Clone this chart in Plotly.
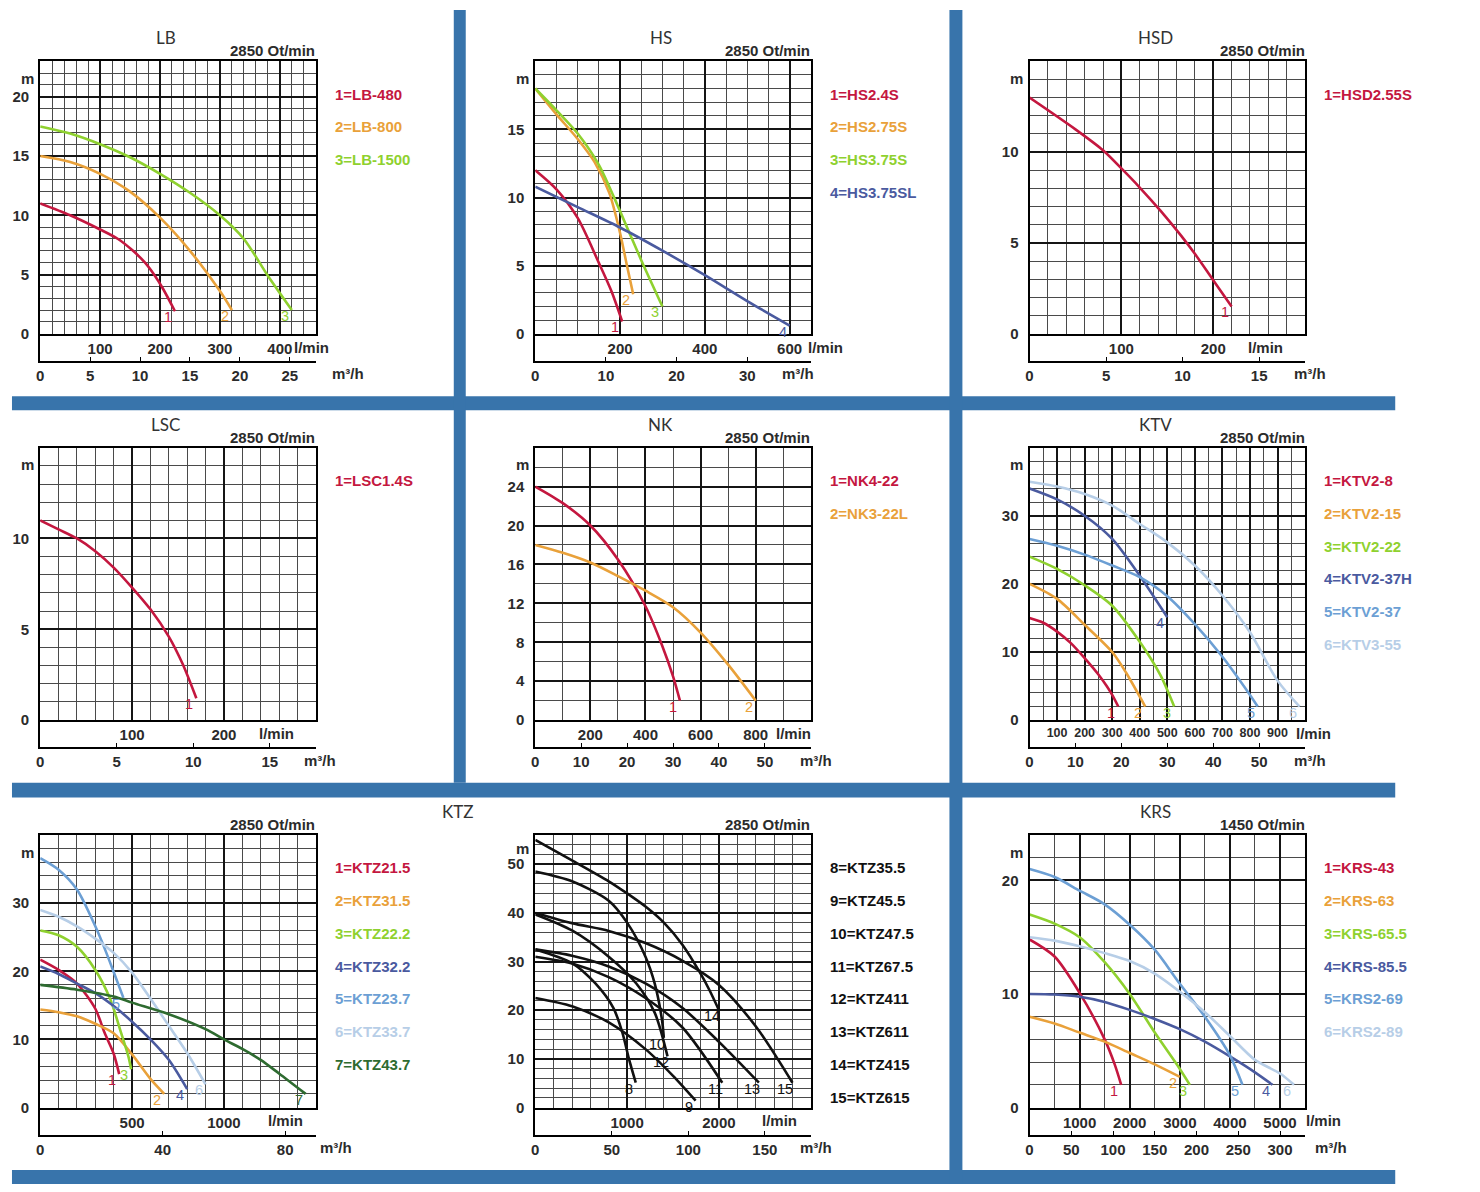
import plotly.graph_objects as go

W, H = 1480, 1192
FONT = "Liberation Sans"
TXT = "#2b2b2b"
RED, ORANGE, GREEN = "#c4173f", "#e9a13a", "#8fd12f"
DBLUE, MBLUE, LBLUE, DGREEN, BLACK = "#4a5a9f", "#6c9fd4", "#b7cee7", "#2e6b30", "#111111"
BAR = "#3874ab"

# ---------------- data (flow l/min, head m) ----------------
# LB
lb480_q = [0, 50, 100, 130, 155, 175, 190, 205, 225]
lb480_h = [11.0, 10.0, 8.8, 8.0, 7.0, 6.0, 5.0, 3.8, 1.9]
lb800_q = [0, 50, 100, 150, 200, 250, 300, 320]
lb800_h = [15.0, 14.5, 13.5, 12.0, 9.8, 7.0, 3.6, 2.0]
lb1500_q = [0, 50, 100, 150, 200, 250, 300, 340, 380, 420]
lb1500_h = [17.5, 16.9, 16.0, 14.9, 13.5, 11.9, 10.0, 8.0, 4.9, 2.0]
# HS
hs24_q = [0, 50, 100, 150, 180, 205]
hs24_h = [12.0, 10.6, 8.5, 5.2, 3.1, 0.9]
hs275_q = [0, 50, 100, 140, 175, 200, 215, 231]
hs275_h = [18.0, 16.1, 14.3, 12.6, 10.3, 7.4, 5.2, 2.9]
hs375_q = [0, 50, 100, 150, 200, 250, 300]
hs375_h = [18.0, 16.4, 14.7, 12.4, 9.0, 5.4, 2.0]
hs375l_q = [0, 100, 200, 300, 400, 500, 600]
hs375l_h = [10.8, 9.3, 7.8, 6.1, 4.3, 2.4, 0.6]
# HSD
hsd_q = [0, 50, 80, 100, 120, 143, 165, 180, 200, 220]
hsd_h = [13.0, 11.25, 10.1, 9.1, 8.05, 6.75, 5.4, 4.4, 2.95, 1.5]
# LSC
lsc_q = [0, 20, 40, 60, 80, 100, 120, 140, 155, 170]
lsc_h = [11.0, 10.5, 10.0, 9.3, 8.4, 7.3, 6.1, 4.6, 3.1, 1.2]
# NK
nk422_q = [0, 100, 200, 300, 400, 460, 500, 525]
nk422_h = [24.0, 22.3, 20.0, 16.5, 11.7, 7.7, 4.5, 2.0]
nk322l_q = [0, 100, 200, 300, 400, 500, 600, 700, 800]
nk322l_h = [18.0, 17.2, 16.2, 14.8, 13.3, 11.6, 9.0, 5.7, 2.0]
# KTV
ktv28_q = [0, 50, 100, 150, 200, 250, 280, 300, 322]
ktv28_h = [15.0, 14.3, 13.0, 11.3, 9.1, 6.7, 5.0, 3.7, 2.0]
ktv215_q = [0, 100, 200, 300, 350, 420]
ktv215_h = [20.0, 17.8, 14.0, 10.0, 7.0, 2.0]
ktv222_q = [0, 100, 200, 300, 400, 475, 525]
ktv222_h = [24.0, 22.2, 19.8, 16.8, 11.5, 6.6, 2.0]
ktv237h_q = [0, 100, 200, 300, 400, 500]
ktv237h_h = [34.0, 32.4, 30.0, 26.6, 21.2, 15.1]
ktv237_q = [0, 100, 200, 300, 400, 500, 600, 700, 800, 828]
ktv237_h = [26.6, 25.6, 24.3, 22.7, 21.0, 18.2, 14.1, 9.3, 3.7, 2.0]
ktv355_q = [0, 100, 200, 300, 400, 500, 600, 700, 800, 900, 980]
ktv355_h = [35.0, 34.3, 33.2, 31.5, 28.8, 26.1, 22.7, 18.3, 12.9, 5.8, 2.0]
# KTZ (left)
ktz215_q = [0, 100, 200, 300, 350, 400, 430]
ktz215_h = [21.7, 20.2, 18.2, 14.5, 11.0, 7.9, 4.9]
ktz315_q = [0, 100, 200, 300, 400, 500, 600, 675]
ktz315_h = [14.4, 14.0, 13.4, 12.3, 10.9, 7.8, 4.2, 2.0]
ktz222_q = [0, 100, 200, 300, 380, 440, 480, 495]
ktz222_h = [26.0, 25.3, 23.6, 20.2, 16.0, 11.0, 7.5, 5.6]
ktz322_q = [0, 100, 200, 300, 400, 500, 600, 700, 800]
ktz322_h = [20.7, 19.6, 18.2, 16.8, 14.9, 12.6, 10.0, 7.0, 2.7]
ktz237_q = [0, 100, 200, 300, 350, 400, 453]
ktz237_h = [36.6, 34.9, 32.0, 26.6, 23.4, 19.9, 16.1]
ktz337_q = [0, 100, 200, 300, 400, 500, 600, 700, 800, 900]
ktz337_h = [29.0, 28.0, 26.6, 24.8, 22.7, 19.8, 16.0, 12.0, 8.0, 3.4]
ktz437_q = [0, 200, 400, 500, 700, 900, 1000, 1100, 1200, 1300, 1445]
ktz437_h = [18.0, 17.3, 16.3, 15.4, 13.7, 11.5, 10.0, 8.6, 7.0, 5.0, 2.0]
# KTZ (right)
ktz355_q = [0, 400, 650, 850, 950, 1020, 1094]
ktz355_h = [32.5, 29.7, 25.6, 20.5, 15.3, 10.0, 5.1]
ktz455_q = [0, 400, 800, 1200, 1500, 1746]
ktz455_h = [22.5, 20.8, 17.5, 12.0, 6.5, 1.4]
ktz475_q = [0, 400, 800, 1000, 1200, 1300, 1380, 1400]
ktz475_h = [48.5, 46.5, 42.5, 38.0, 31.0, 25.5, 18.0, 14.3]
ktz675_q = [0, 400, 800, 1200, 1600, 2036]
ktz675_h = [31.0, 29.6, 26.8, 22.5, 16.5, 5.1]
ktz411_q = [0, 400, 800, 1100, 1300, 1440]
ktz411_h = [39.7, 36.4, 31.0, 25.5, 19.5, 10.5]
ktz611_q = [0, 400, 800, 1200, 1600, 2000, 2435]
ktz611_h = [32.5, 31.2, 29.0, 25.5, 20.5, 13.5, 5.1]
ktz415_q = [0, 400, 800, 1000, 1200, 1400, 1600, 1800, 1900, 2000]
ktz415_h = [55.0, 50.8, 46.5, 44.0, 41.3, 38.0, 33.5, 27.5, 24.0, 20.0]
ktz615_q = [0, 400, 800, 1200, 1600, 2000, 2400, 2800]
ktz615_h = [40.0, 37.9, 36.3, 33.8, 30.2, 25.2, 16.7, 5.1]
# KRS
krs43_q = [0, 500, 1000, 1500, 1700, 1830]
krs43_h = [14.8, 13.3, 10.1, 6.0, 3.8, 2.0]
krs63_q = [0, 500, 1000, 1500, 2000, 2500, 3000]
krs63_h = [8.0, 7.4, 6.6, 5.8, 4.8, 3.8, 2.7]
krs655_q = [0, 500, 1000, 1500, 2000, 2500, 3000, 3200]
krs655_h = [17.0, 16.2, 15.0, 12.8, 10.0, 6.6, 3.4, 2.0]
krs855_q = [0, 500, 1000, 1500, 2000, 2500, 3000, 3500, 4000, 4500, 4850]
krs855_h = [10.0, 9.95, 9.75, 9.3, 8.6, 7.8, 6.9, 5.8, 4.5, 3.1, 2.0]
krs269_q = [0, 500, 1000, 1500, 2000, 2500, 3000, 3500, 4000, 4250]
krs269_h = [21.0, 20.3, 19.1, 17.9, 16.1, 13.9, 10.9, 8.0, 4.6, 2.0]
krs289_q = [0, 500, 1000, 1500, 2000, 2500, 3000, 3500, 4000, 4500, 5000, 5280]
krs289_h = [15.0, 14.7, 14.2, 13.6, 12.9, 11.8, 10.2, 8.4, 6.3, 4.2, 3.0, 2.0]

# ---------------- panel layout ----------------
COL_L = [36.3, 532.7, 1028.3]
ROW_T = [61.7, 450.7, 840.7]
PW, PH, BH = 276.3, 274.3, 27.5

panels = [
    dict(title="LB", col=0, row=0, rpm="2850 Ot/min", xmax=460, ymax=23,
         xt=[100, 200, 300, 400], xminor=20, yt=[0, 5, 10, 15, 20], yminor=1,
         mt=[0, 5, 10, 15, 20, 25], lmin=252.5, m3=290.4, xfs=15, mdy=0,
         curves=[(lb480_q, lb480_h, RED, "1"), (lb800_q, lb800_h, ORANGE, "2"),
                 (lb1500_q, lb1500_h, GREEN, "3")],
         legend=[("1=LB-480", RED), ("2=LB-800", ORANGE), ("3=LB-1500", GREEN)]),
    dict(title="HS", col=1, row=0, rpm="2850 Ot/min", xmax=650, ymax=20,
         xt=[200, 400, 600], xminor=50, yt=[0, 5, 10, 15], yminor=1,
         mt=[0, 10, 20, 30], lmin=271.0, m3=245.6, xfs=15, mdy=0,
         curves=[(hs24_q, hs24_h, RED, "1"), (hs275_q, hs275_h, ORANGE, "2"),
                 (hs375_q, hs375_h, GREEN, "3"), (hs375l_q, hs375l_h, DBLUE, "4")],
         legend=[("1=HS2.4S", RED), ("2=HS2.75S", ORANGE), ("3=HS3.75S", GREEN),
                 ("4=HS3.75SL", DBLUE)]),
    dict(title="HSD", col=2, row=0, rpm="2850 Ot/min", xmax=300, ymax=15,
         xt=[100, 200], xminor=20, yt=[0, 5, 10], yminor=1,
         mt=[0, 5, 10, 15], lmin=216.7, m3=263.4, xfs=15, mdy=0,
         curves=[(hsd_q, hsd_h, RED, "1")],
         legend=[("1=HSD2.55S", RED)]),
    dict(title="LSC", col=0, row=1, rpm="2850 Ot/min", xmax=300, ymax=15,
         xt=[100, 200], xminor=20, yt=[0, 5, 10], yminor=1,
         mt=[0, 5, 10, 15], lmin=217.0, m3=263.0, xfs=15, mdy=0,
         curves=[(lsc_q, lsc_h, RED, "1")],
         legend=[("1=LSC1.4S", RED)]),
    dict(title="NK", col=1, row=1, rpm="2850 Ot/min", xmax=1000, ymax=28,
         xt=[200, 400, 600, 800], xminor=100, yt=[0, 4, 8, 12, 16, 20, 24], yminor=2,
         mt=[0, 10, 20, 30, 40, 50], lmin=239.0, m3=263.3, xfs=15, mdy=0,
         curves=[(nk422_q, nk422_h, RED, "1"), (nk322l_q, nk322l_h, ORANGE, "2")],
         legend=[("1=NK4-22", RED), ("2=NK3-22L", ORANGE)]),
    dict(title="KTV", col=2, row=1, rpm="2850 Ot/min", xmax=1000, ymax=40,
         xt=[100, 200, 300, 400, 500, 600, 700, 800, 900], xminor=50, yt=[0, 10, 20, 30], yminor=2,
         mt=[0, 10, 20, 30, 40, 50], lmin=265.0, m3=263.4, xfs=12.5, mdy=0,
         curves=[(ktv28_q, ktv28_h, RED, "1"), (ktv215_q, ktv215_h, ORANGE, "2"),
                 (ktv222_q, ktv222_h, GREEN, "3"), (ktv237h_q, ktv237h_h, DBLUE, "4"),
                 (ktv237_q, ktv237_h, MBLUE, "5"), (ktv355_q, ktv355_h, LBLUE, "6")],
         legend=[("1=KTV2-8", RED), ("2=KTV2-15", ORANGE), ("3=KTV2-22", GREEN),
                 ("4=KTV2-37H", DBLUE), ("5=KTV2-37", MBLUE), ("6=KTV3-55", LBLUE)]),
    dict(title=None, col=0, row=2, rpm="2850 Ot/min", xmax=1500, ymax=40,
         xt=[500, 1000], xminor=100, yt=[0, 10, 20, 30], yminor=2,
         mt=[0, 40, 80], lmin=226.0, m3=278.7, xfs=15, mdy=0,
         curves=[(ktz215_q, ktz215_h, RED, "1"), (ktz315_q, ktz315_h, ORANGE, "2"),
                 (ktz222_q, ktz222_h, GREEN, "3"), (ktz322_q, ktz322_h, DBLUE, "4"),
                 (ktz237_q, ktz237_h, MBLUE, "5"), (ktz337_q, ktz337_h, LBLUE, "6"),
                 (ktz437_q, ktz437_h, DGREEN, "7")],
         legend=[("1=KTZ21.5", RED), ("2=KTZ31.5", ORANGE), ("3=KTZ22.2", GREEN),
                 ("4=KTZ32.2", DBLUE), ("5=KTZ23.7", MBLUE), ("6=KTZ33.7", LBLUE),
                 ("7=KTZ43.7", DGREEN)]),
    dict(title=None, col=1, row=2, rpm="2850 Ot/min", xmax=3000, ymax=56,
         xt=[1000, 2000], xminor=200, yt=[0, 10, 20, 30, 40, 50], yminor=2,
         mt=[0, 50, 100, 150], lmin=225.0, m3=263.3, xfs=15, mdy=-4,
         curves=[(ktz355_q, ktz355_h, BLACK, "8"), (ktz455_q, ktz455_h, BLACK, "9"),
                 (ktz475_q, ktz475_h, BLACK, "10"), (ktz675_q, ktz675_h, BLACK, "11"),
                 (ktz411_q, ktz411_h, BLACK, "12"), (ktz611_q, ktz611_h, BLACK, "13"),
                 (ktz415_q, ktz415_h, BLACK, "14"), (ktz615_q, ktz615_h, BLACK, "15")],
         legend=[("8=KTZ35.5", BLACK), ("9=KTZ45.5", BLACK), ("10=KTZ47.5", BLACK),
                 ("11=KTZ67.5", BLACK), ("12=KTZ411", BLACK), ("13=KTZ611", BLACK),
                 ("14=KTZ415", BLACK), ("15=KTZ615", BLACK)]),
    dict(title="KRS", col=2, row=2, rpm="1450 Ot/min", xmax=5500, ymax=24,
         xt=[1000, 2000, 3000, 4000, 5000], xminor=500, yt=[0, 10, 20], yminor=2,
         mt=[0, 50, 100, 150, 200, 250, 300], lmin=275.0, m3=284.4, xfs=15, mdy=0,
         curves=[(krs43_q, krs43_h, RED, "1"), (krs63_q, krs63_h, ORANGE, "2"),
                 (krs655_q, krs655_h, GREEN, "3"), (krs855_q, krs855_h, DBLUE, "4"),
                 (krs269_q, krs269_h, MBLUE, "5"), (krs289_q, krs289_h, LBLUE, "6")],
         legend=[("1=KRS-43", RED), ("2=KRS-63", ORANGE), ("3=KRS-65.5", GREEN),
                 ("4=KRS-85.5", DBLUE), ("5=KRS2-69", MBLUE), ("6=KRS2-89", LBLUE)]),
]

def px(x):
    return x / W

def py(y):
    return 1 - y / H

def sfx(n):
    return "" if n == 1 else str(n)

def bold(size=15, color=TXT):
    return dict(family=FONT, size=size, color=color, weight="bold")

fig = go.Figure()
layout = dict(width=W, height=H, margin=dict(l=0, r=0, t=0, b=0),
              paper_bgcolor="white", plot_bgcolor="white", showlegend=False)
annotations = []
shapes = []

def note(text, x, y, font, xanchor="left", yanchor="middle"):
    annotations.append(dict(text=text, x=px(x), y=py(y), xref="paper", yref="paper",
                            xanchor=xanchor, yanchor=yanchor, showarrow=False, font=font))

for k, p in enumerate(panels):
    L = COL_L[p["col"]]
    R = L + PW
    T = ROW_T[p["row"]]
    Z = T + PH
    B = Z + BH
    im, ib = 2 * k + 1, 2 * k + 2
    xm, ym, xb, yb = "x" + sfx(im), "y" + sfx(im), "x" + sfx(ib), "y" + sfx(ib)

    layout["xaxis" + sfx(im)] = dict(
        domain=[px(L), px(R)], range=[0, p["xmax"]], anchor=ym,
        showline=True, linecolor="black", linewidth=2, mirror=True,
        showgrid=True, gridcolor="#151515", gridwidth=1.7, zeroline=False,
        tickmode="array", tickvals=p["xt"], ticktext=[str(v) for v in p["xt"]],
        ticks="", tickangle=0, tickfont=bold(p["xfs"]), ticklabelstandoff=0,
        minor=dict(tick0=0, dtick=p["xminor"], showgrid=True, gridcolor="#4a4a4a", gridwidth=0.9),
        fixedrange=True)
    layout["yaxis" + sfx(im)] = dict(
        domain=[py(Z), py(T)], range=[0, p["ymax"]], anchor=xm,
        showline=True, linecolor="black", linewidth=2, mirror=True,
        showgrid=True, gridcolor="#151515", gridwidth=1.7, zeroline=False,
        tickmode="array", tickvals=p["yt"], ticktext=[str(v) for v in p["yt"]],
        ticks="", tickfont=bold(), ticklabelstandoff=6,
        minor=dict(tick0=0, dtick=p["yminor"], showgrid=True, gridcolor="#4a4a4a", gridwidth=0.9),
        fixedrange=True)
    layout["xaxis" + sfx(ib)] = dict(
        domain=[px(L), px(R)], range=[0, p["xmax"] * 60 / 1000], anchor=yb,
        showline=True, linecolor="black", linewidth=2, showgrid=False, zeroline=False,
        tickmode="array", tickvals=p["mt"], ticktext=[str(v) for v in p["mt"]],
        ticks="inside", ticklen=4, tickwidth=1.2, tickcolor="black", tickangle=0,
        tickfont=bold(), ticklabelstandoff=0, fixedrange=True)
    layout["yaxis" + sfx(ib)] = dict(
        domain=[py(B), py(Z)], range=[0, 1], anchor=xb,
        showline=True, linecolor="black", linewidth=2, showgrid=False, zeroline=False,
        showticklabels=False, ticks="", fixedrange=True)

    fig.add_trace(go.Scatter(x=[], y=[], xaxis=xb, yaxis=yb, showlegend=False, hoverinfo="skip"))

    for q, h, c, num in p["curves"]:
        fig.add_trace(go.Scatter(x=q, y=h, mode="lines", xaxis=xm, yaxis=ym,
                                 line=dict(color=c, width=2.6, shape="spline", smoothing=0.8),
                                 showlegend=False, hoverinfo="skip"))
        annotations.append(dict(text=num, x=q[-1], y=h[-1], xref=xm, yref=ym,
                                xshift=-7, yshift=-6, showarrow=False,
                                font=dict(family=FONT, size=14.5, color=c)))

    if p["title"]:
        note(p["title"], L + 126, T - 23.7, dict(family="Lato", size=17, color="#333333"),
             xanchor="center")
    note(p["rpm"], R + 1.5, T - 10.7, bold())
    annotations[-1]["xanchor"] = "right"
    note("m", L - 13, T + 17.3 + p["mdy"], bold(), xanchor="center")
    note("l/min", L + p["lmin"], Z + 13.5, bold())
    note("m³/h", L + p["m3"], B + 13, bold())
    for i, (txt, c) in enumerate(p["legend"]):
        note(txt, R + 17, T + 33 + 33 * i, bold(15, c))

# KTZ shared title
note("KTZ", 455, 817, dict(family="Lato", size=17, color="#333333"), xanchor="center")

# blue separator bars
for x0, x1, y0, y1 in [(8, 1395, 399, 413), (8, 1395, 788, 803), (8, 1395, 1178, 1192),
                       (451, 463, 10, 788), (948, 961, 10, 1192)]:
    shapes.append(dict(type="rect", xref="paper", yref="paper",
                       x0=px(x0), x1=px(x1), y0=py(y1), y1=py(y0),
                       fillcolor=BAR, line=dict(width=0), layer="below"))

layout["annotations"] = annotations
layout["shapes"] = shapes
fig.update_layout(**layout)

fig.write_html("out.html", config={"displayModeBar": False},
               post_script="document.body.style.margin='0';document.body.style.overflow='hidden';")
